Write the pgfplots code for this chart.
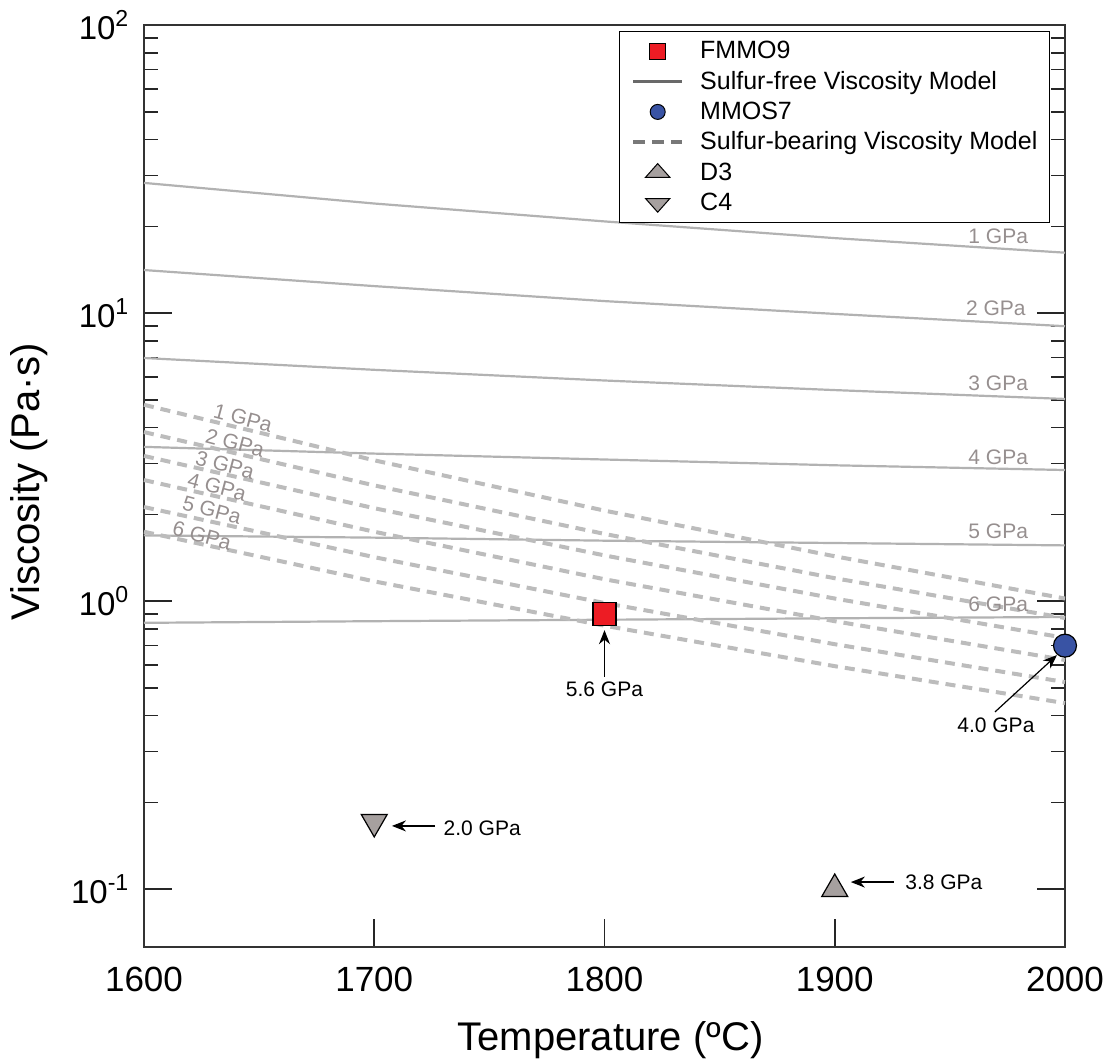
\documentclass[border=0pt]{standalone}
\usepackage{fontspec}
\setmainfont{Liberation Sans}
\usepackage{pgfplots}
\pgfplotsset{compat=1.18}
\usetikzlibrary{arrows.meta}
\definecolor{solidgray}{RGB}{178,178,178}
\definecolor{dashgray}{RGB}{188,188,188}
\definecolor{lblgray}{RGB}{150,143,143}
\definecolor{fmred}{RGB}{237,28,36}
\definecolor{mmblue}{RGB}{57,83,164}
\definecolor{trigray}{RGB}{166,160,159}
\definecolor{legsolid}{RGB}{105,105,105}
\definecolor{legdash}{RGB}{120,120,120}
\begin{document}
\begin{tikzpicture}
\begin{axis}[
  name=ax, at={(0,0)}, anchor=south west,
  scale only axis, width=460.5pt, height=461pt,
  xmin=1600, xmax=2000, ymode=log, ymin=0.0629, ymax=100,
  clip=false,
  axis line style={line width=0.9pt, black!80},
  xtick={1600,1700,1800,1900,2000},
  xticklabels={1600,1700,1800,1900,2000},
  xtick pos=left,
  ytick={0.1,1,10,100},
  yticklabels={10\textsuperscript{-1},10\textsuperscript{0},10\textsuperscript{1},10\textsuperscript{2}},
  ytick pos=both,
  tick align=inside,
  major tick length=14pt, minor tick length=7pt,
  every tick/.style={black!85, line width=0.8pt},
  xticklabel style={font=\fontsize{17.5pt}{20pt}\selectfont, yshift=-6.5pt},
  yticklabel style={font=\fontsize{16.5pt}{19pt}\selectfont, xshift=-3.8pt},
  /pgf/number format/assume math mode=true,
  legend image code/.code={\draw[mark repeat=2,mark phase=2,#1] plot coordinates {(0pt,0pt) (12.25pt,0pt) (24.5pt,0pt)};},
  legend style={at={(rel axis cs:1,1)}, xshift=-7.5pt, yshift=-3pt, anchor=north east,
    draw=black, line width=0.6pt, inner xsep=6pt, inner ysep=3.5pt,
    font=\fontsize{12.5pt}{15pt}\selectfont, row sep=2.7pt,
    nodes={inner sep=0pt, text height=10pt, text depth=2.5pt},
    /tikz/every odd column/.append style={column sep=8pt}},
  legend cell align=left,
]
% Sulfur-free viscosity model (1-6 GPa)
\addplot[solidgray, line width=1.1pt, forget plot] coordinates {(1600,28.3) (1700,24.0) (1800,20.8) (1900,18.2) (2000,16.2)};
\addplot[solidgray, line width=1.1pt, forget plot] coordinates {(1600,14.1) (1700,12.4) (1800,11.0) (1900,9.93) (2000,9.0)};
\addplot[solidgray, line width=1.1pt, forget plot] coordinates {(1600,6.98) (1700,6.35) (1800,5.83) (1900,5.40) (2000,5.03)};
\addplot[solidgray, line width=1.1pt, forget plot] coordinates {(1600,3.43) (1700,3.25) (1800,3.10) (1900,2.96) (2000,2.85)};
\addplot[solidgray, line width=1.1pt, forget plot] coordinates {(1600,1.69) (1700,1.66) (1800,1.62) (1900,1.59) (2000,1.56)};
\addplot[solidgray, line width=1.1pt, forget plot] coordinates {(1600,0.84) (1700,0.851) (1800,0.861) (1900,0.871) (2000,0.88)};
% Sulfur-bearing viscosity model (1-6 GPa)
\addplot[dashgray, line width=2pt, dash pattern=on 5pt off 3.5pt, forget plot] coordinates {(1600,4.80) (1700,3.08) (1800,2.06) (1900,1.43) (2000,1.02)};
\addplot[dashgray, line width=2pt, dash pattern=on 5pt off 3.5pt, forget plot] coordinates {(1600,3.86) (1700,2.52) (1800,1.71) (1900,1.20) (2000,0.873)};
\addplot[dashgray, line width=2pt, dash pattern=on 5pt off 3.5pt, forget plot] coordinates {(1600,3.19) (1700,2.10) (1800,1.44) (1900,1.02) (2000,0.745)};
\addplot[dashgray, line width=2pt, dash pattern=on 5pt off 3.5pt, forget plot] coordinates {(1600,2.63) (1700,1.74) (1800,1.19) (1900,0.851) (2000,0.624)};
\addplot[dashgray, line width=2pt, dash pattern=on 5pt off 3.5pt, forget plot] coordinates {(1600,2.12) (1700,1.42) (1800,0.984) (1900,0.708) (2000,0.523)};
\addplot[dashgray, line width=2pt, dash pattern=on 5pt off 3.5pt, forget plot] coordinates {(1600,1.74) (1700,1.17) (1800,0.821) (1900,0.594) (2000,0.442)};
% line labels
\begin{scope}[every node/.style={font=\fontsize{10.5pt}{12pt}\selectfont, text=lblgray}]
\node at (axis cs:1971,18.5) {1 GPa};
\node at (axis cs:1970,10.4) {2 GPa};
\node at (axis cs:1971,5.71) {3 GPa};
\node at (axis cs:1971,3.16) {4 GPa};
\node at (axis cs:1971,1.75) {5 GPa};
\node at (axis cs:1971,0.976) {6 GPa};
\node[rotate=-15] at (axis cs:1643,4.32) {1 GPa};
\node[rotate=-15] at (axis cs:1639.5,3.54) {2 GPa};
\node[rotate=-15] at (axis cs:1635.2,2.97) {3 GPa};
\node[rotate=-15] at (axis cs:1631.7,2.49) {4 GPa};
\node[rotate=-15] at (axis cs:1629.5,2.07) {5 GPa};
\node[rotate=-15] at (axis cs:1625.2,1.69) {6 GPa};
\end{scope}
% annotations
\begin{scope}[every node/.style={font=\fontsize{10.5pt}{12pt}\selectfont, inner sep=0pt}]
\draw[-{Stealth[length=7pt,width=5.5pt]}, line width=0.6pt] (axis cs:1800,0.545) -- (axis cs:1800,0.792);
\node[anchor=north] at (axis cs:1800,0.525) {5.6 GPa};
\draw[-{Stealth[length=7pt,width=5.5pt]}, line width=0.6pt] (axis cs:1969.6,0.412) -- (axis cs:1996.5,0.649);
\node[anchor=north] at (axis cs:1970,0.395) {4.0 GPa};
\draw[-{Stealth[length=7pt,width=5.5pt]}, line width=0.6pt] (axis cs:1726.4,0.1656) -- (axis cs:1707.7,0.1656);
\node[anchor=west] at (axis cs:1730,0.162) {2.0 GPa};
\draw[-{Stealth[length=7pt,width=5.5pt]}, line width=0.6pt] (axis cs:1925.7,0.1057) -- (axis cs:1907,0.1057);
\node[anchor=west] at (axis cs:1930.5,0.1057) {3.8 GPa};
\end{scope}
% data points
\addplot[only marks, mark=square*, mark size=5.75pt, mark options={fill=fmred, draw=black, line width=0.6pt}, forget plot] coordinates {(1800,0.90)};
\addplot[only marks, mark=*, mark size=5.75pt, mark options={fill=mmblue, draw=black, line width=0.6pt}, forget plot] coordinates {(2000,0.70)};
\addplot[only marks, mark=triangle*, mark size=7.5pt, mark options={fill=trigray, draw=black, line width=0.6pt}, forget plot] coordinates {(1900,0.100)};
\addplot[only marks, mark=triangle*, mark size=7.5pt, mark options={fill=trigray, draw=black, line width=0.6pt, rotate=180}, forget plot] coordinates {(1700,0.171)};
% legend
\addlegendimage{only marks, mark=square*, mark size=4pt, mark options={fill=fmred, draw=black, line width=0.5pt}}
\addlegendentry{FMMO9}
\addlegendimage{legsolid, line width=1.2pt}
\addlegendentry{Sulfur-free Viscosity Model}
\addlegendimage{only marks, mark=*, mark size=3.75pt, mark options={fill=mmblue, draw=black, line width=0.5pt}}
\addlegendentry{MMOS7}
\addlegendimage{legdash, line width=2pt, dash pattern=on 6pt off 3.5pt}
\addlegendentry{Sulfur-bearing Viscosity Model}
\addlegendimage{only marks, mark=triangle*, mark size=7pt, mark options={fill=trigray, draw=black, line width=0.5pt, yscale=0.65}}
\addlegendentry{D3}
\addlegendimage{only marks, mark=triangle*, mark size=7pt, mark options={fill=trigray, draw=black, line width=0.5pt, rotate=180, yscale=0.65}}
\addlegendentry{C4}
% axis labels
\node[rotate=90, anchor=base, font=\fontsize{20pt}{24pt}\selectfont] at ([xshift=-52pt,yshift=2pt]rel axis cs:0,0.5) {Viscosity (Pa·s)};
\node[anchor=base, font=\fontsize{20pt}{24pt}\selectfont] at ([xshift=3pt,yshift=-51.5pt]rel axis cs:0.5,0) {Temperature (ºC)};
\end{axis}
\pgfresetboundingbox
\path[use as bounding box] (-72pt,-57pt) rectangle (483pt,473.5pt);
\end{tikzpicture}
\end{document}
